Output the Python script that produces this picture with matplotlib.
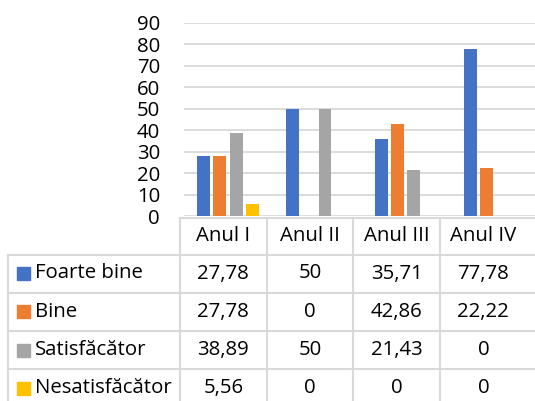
import numpy as np
import matplotlib.pyplot as plt
from matplotlib.lines import Line2D
from matplotlib.patches import Rectangle

plt.rcParams['font.family'] = ['Open Sans', 'DejaVu Sans']

# data
categories = ['Anul I', 'Anul II', 'Anul III', 'Anul IV']
series = ['Foarte bine', 'Bine', 'Satisfăcător', 'Nesatisfăcător']
foarte_bine = [27.78, 50, 35.71, 77.78]
bine = [27.78, 0, 42.86, 22.22]
satisfacator = [38.89, 50, 21.43, 0]
nesatisfacator = [5.56, 0, 0, 0]
values = [foarte_bine, bine, satisfacator, nesatisfacator]
colors = ['#4472C4', '#ED7D31', '#A5A5A5', '#FFC000']
yticks = [0, 10, 20, 30, 40, 50, 60, 70, 80, 90]

W, H = 535, 401
fs = 14.7
fig = plt.figure(figsize=(W / 100, H / 100), dpi=100)

def fx(px):
    return px / W

def fy(py):
    return 1 - py / H

# chart area
ax_left, ax_right = 183.6, 539.0
ax_top, ax_bottom = 23.0, 216.0
ax = fig.add_axes([fx(ax_left), fy(ax_bottom), (ax_right - ax_left) / W, (ax_bottom - ax_top) / H])

x = np.arange(len(categories))
step = 0.183
bw = 0.146
for i, (vals, c) in enumerate(zip(values, colors)):
    ax.bar(x + (i - 1.5) * step, vals, width=bw, color=c, zorder=3)

ax.set_xlim(-0.5, 3.5)
ax.set_ylim(0, 90)
ax.set_yticks(yticks)
ax.set_yticklabels([str(t) for t in yticks], fontsize=fs, color='#000000')
ax.tick_params(axis='y', length=0, pad=17)
ax.set_xticks([])
ax.grid(axis='y', color='#d9d9d9', linewidth=1.3, zorder=0)
for s in ax.spines.values():
    s.set_visible(False)

# data table
line_c = '#d9d9d9'
lw = 1.5
col_edges = [180.0, 266.7, 353.3, 440.0, 526.7]
header_top, header_bot = 217.5, 254.5
row_edges = [254.5, 292.5, 331.0, 369.0, 407.0]
legend_left = 8.0

def hline(x0, x1, y):
    fig.add_artist(Line2D([fx(x0), fx(x1)], [fy(y), fy(y)], color=line_c, linewidth=lw))

def vline(x, y0, y1):
    fig.add_artist(Line2D([fx(x), fx(x)], [fy(y0), fy(y1)], color=line_c, linewidth=lw))

hline(col_edges[0], W, header_top)
hline(legend_left, W, header_bot)
for r in row_edges[1:]:
    hline(legend_left, W, r)
vline(legend_left, header_bot, H)
for cx in col_edges[:4]:
    vline(cx, header_top, H)

for j, cat in enumerate(categories):
    cx = (col_edges[j] + col_edges[j + 1]) / 2
    fig.text(fx(cx), fy((header_top + header_bot) / 2), cat, ha='center', va='center', fontsize=fs)

for i, name in enumerate(series):
    yc = (row_edges[i] + row_edges[i + 1]) / 2
    if i == 3:
        yc = row_edges[i] + 19
    fig.add_artist(Rectangle((fx(17), fy(yc + 6.5)), 13 / W, 13 / H, color=colors[i]))
    fig.text(fx(35), fy(yc), name, ha='left', va='center', fontsize=fs)
    for j in range(len(categories)):
        cx = (col_edges[j] + col_edges[j + 1]) / 2
        v = values[i][j]
        txt = ('%g' % v).replace('.', ',')
        fig.text(fx(cx), fy(yc), txt, ha='center', va='center', fontsize=fs)

fig.savefig('out.png', dpi=100)
